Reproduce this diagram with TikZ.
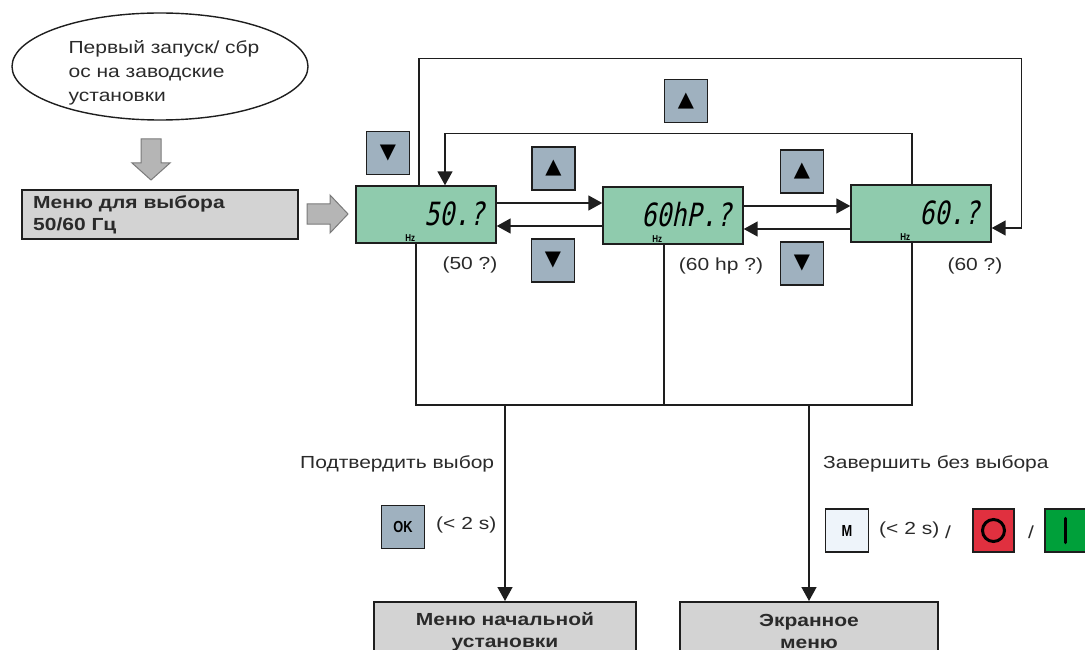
\documentclass[tikz,border=0pt]{standalone}
\usepackage{fontspec}
\setmainfont{Liberation Sans}[FakeStretch=1.2]
\newfontfamily\symfont{DejaVu Sans}
\newfontfamily\lcdfont{DejaVu Sans Mono}[FakeSlant=0.2,FakeStretch=0.78]
\newfontfamily\btnfont{Liberation Sans}[FakeStretch=0.8]
\usetikzlibrary{arrows.meta,shapes.geometric}
\definecolor{linec}{HTML}{1E1E1E}
\definecolor{lcdg}{HTML}{8FCBAD}
\definecolor{keyb}{HTML}{9FB1BF}
\definecolor{boxg}{HTML}{D3D3D3}
\definecolor{arrg}{HTML}{B5B5B5}
\definecolor{arro}{HTML}{7A7A7A}
\definecolor{mkey}{HTML}{EEF4FA}
\definecolor{redk}{HTML}{E0303F}
\definecolor{greenk}{HTML}{00A03A}
\definecolor{txt}{HTML}{2A2A2A}
\begin{document}
\begin{tikzpicture}[x=1pt,y=-1pt, font=\fontsize{17.5}{24}\selectfont, text=txt,
 line/.style={draw=linec, line width=1.5pt},
 arr/.style={line, -{Triangle[length=14pt,width=15pt]}},
 lcd/.style={draw=linec, line width=1.4pt, fill=lcdg, minimum width=140pt, minimum height=57pt, inner sep=0pt},
 key/.style={draw=linec, line width=1.4pt, fill=keyb, minimum width=43pt, minimum height=43pt, inner sep=0pt, font=\symfont\fontsize{21}{21}\selectfont, text=black},
 menubox/.style={draw=linec, line width=1.5pt, fill=boxg, inner sep=0pt},
 boldtxt/.style={font=\bfseries\fontsize{17.5}{22}\selectfont, inner sep=0pt},
 blockarr/.style={draw=arro, line width=1pt, fill=arrg},
 lcdtxt/.style={font=\lcdfont\fontsize{32}{32}\selectfont, text=black, inner sep=0pt},
 hz/.style={font=\btnfont\bfseries\fontsize{10}{10}\selectfont, text=black, inner sep=0pt},
 lbl/.style={inner sep=0pt},
 btntxt/.style={font=\btnfont\bfseries\fontsize{16}{16}\selectfont, text=black},
]
\useasboundingbox (0,0) rectangle (1085,650);
\clip (0,0) rectangle (1085,650);

% start ellipse
\node[draw=linec, line width=1.4pt, ellipse, minimum width=296pt, minimum height=107pt, inner sep=0pt] (start) at (160,66.5) {};
\node[lbl, align=left] (starttxt) at (164,73) {Первый запуск/ сбр\\ос на заводские\\установки};

% block arrows
\draw[blockarr] (141,139) -- (161,139) -- (161,163) -- (170,163) -- (151,180) -- (132,163) -- (141,163) -- cycle;
\node[menubox, minimum width=276pt, minimum height=49pt] (menu) at (160,214.5) {};
\node[boldtxt, align=left, anchor=west] (menutxt) at (33,215) {Меню для выбора\\50/60 Гц};
\draw[blockarr] (307,204) -- (330,204) -- (330,195) -- (348,214) -- (330,233) -- (330,224) -- (307,224) -- cycle;

% LCD displays
\node[lcd] (lcd1) at (426,214.5) {};
\node[lcd] (lcd2) at (673,215.5) {};
\node[lcd] (lcd3) at (921,213.5) {};
\node[lcdtxt, anchor=east] (d1) at ([xshift=-12pt,yshift=1pt]lcd1.east) {50.?};
\node[lcdtxt, anchor=east] (d2) at ([xshift=-12pt,yshift=1pt]lcd2.east) {60hP.?};
\node[lcdtxt, anchor=east] (d3) at ([xshift=-12pt,yshift=1pt]lcd3.east) {60.?};
\node[hz] (hz1) at ([xshift=55pt,yshift=5.5pt]lcd1.south west) {Hz};
\node[hz] (hz2) at ([xshift=55pt,yshift=5.5pt]lcd2.south west) {Hz};
\node[hz] (hz3) at ([xshift=55pt,yshift=5.5pt]lcd3.south west) {Hz};
\node[lbl] (c1) at (470,265) {(50 ?)};
\node[lbl] (c2) at (721,266) {(60 hp ?)};
\node[lbl] (c3) at (975,266) {(60 ?)};

% arrows between displays
\draw[arr] ([yshift=11.5pt]lcd1.east) -- ([yshift=11.5pt]lcd1.east -| lcd2.west);
\draw[arr] ([yshift=-11.5pt]lcd1.east -| lcd2.west) -- ([yshift=-11.5pt]lcd1.east);
\draw[arr] ([yshift=9.5pt]lcd2.east) -- ([yshift=9.5pt]lcd2.east -| lcd3.west);
\draw[arr] ([yshift=-13.5pt]lcd2.east -| lcd3.west) -- ([yshift=-13.5pt]lcd2.east);

% loops
\draw[arr] ([xshift=-7pt]lcd1.north) -- ++(0,-127) -| ([xshift=30pt,yshift=-14.5pt]lcd3.east) -- ([yshift=-14.5pt]lcd3.east);
\draw[arr] ([xshift=-9pt]lcd3.north) -- ++(0,-51) -| ([xshift=19pt]lcd1.north);

% keys
\node[key] (kd1) at (388,153) {▼};
\node[key] (ku0) at (686,101) {▲};
\node[key] (ku1) at (553.5,168.5) {▲};
\node[key] (kd2) at (553,260.5) {▼};
\node[key] (ku2) at (802,171.5) {▲};
\node[key] (kd3) at (802,263.5) {▼};

% collecting lines
\coordinate (j1) at (416,405);
\coordinate (j2) at (664,405);
\coordinate (j3) at (912,405);
\draw[line] ([xshift=-10pt]lcd1.south) -- (j1) -- (j3) -- ([xshift=-9pt]lcd3.south);
\draw[line] ([xshift=-9pt]lcd2.south) -- (j2);

% bottom boxes
\node[menubox, minimum width=262pt, minimum height=80pt, anchor=north] (init) at (505,601) {};
\node[boldtxt, align=center] (inittxt) at (505,631.5) {Меню начальной\\установки};
\node[menubox, minimum width=258pt, minimum height=80pt, anchor=north] (screen) at (809,601) {};
\node[boldtxt, align=center] (screentxt) at (809,631.5) {Экранное\\меню};
\draw[arr] (init.north |- j1) -- (init.north);
\draw[arr] (screen.north |- j1) -- (screen.north);

% confirm branch
\node[lbl, anchor=west] (confirm) at (300,464) {Подтвердить выбор};
\node[key, btntxt] (ok) at (403,527) {OK};
\node[lbl, anchor=west] (t2s1) at (436,525) {(< 2 s)};

% exit branch
\node[lbl, anchor=west] (quit) at (823,464) {Завершить без выбора};
\node[key, btntxt, fill=mkey] (mk) at (847,530.5) {M};
\node[lbl, anchor=west] (t2s2) at (879,530) {(< 2 s)};
\node[lbl] (sl1) at (948,532) {/};
\node[key, fill=redk, minimum width=41pt] (rk) at (993.5,530.5) {};
\draw[line width=3pt, black] (rk.center) circle (11pt);
\node[lbl] (sl2) at (1031,532) {/};
\node[key, fill=greenk, minimum width=41pt] (gk) at (1065.5,530.5) {};
\draw[line width=3.5pt, black, line cap=round] ([yshift=12pt]gk.center) -- ([yshift=-12pt]gk.center);
\end{tikzpicture}
\end{document}
